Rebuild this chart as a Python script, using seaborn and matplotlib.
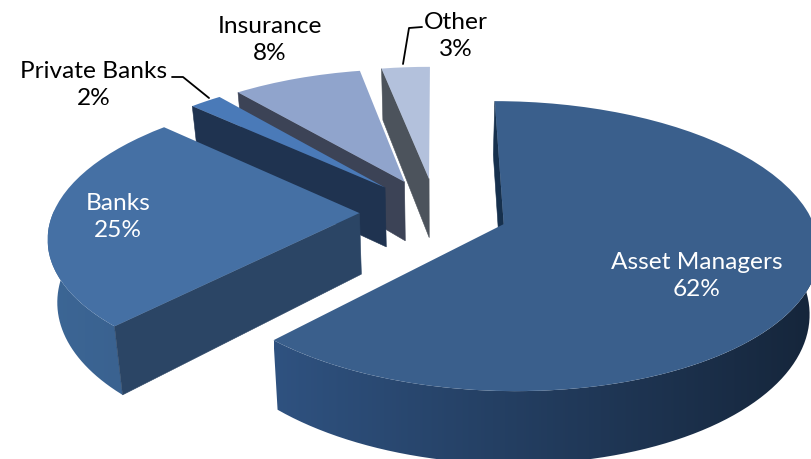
import numpy as np
import matplotlib
matplotlib.use("Agg")
import matplotlib.pyplot as plt
from matplotlib.path import Path
from matplotlib.patches import PathPatch
from matplotlib.transforms import Transform
from matplotlib.colors import to_rgb
import seaborn as sns

categories = ["Asset Managers", "Banks", "Private Banks", "Insurance", "Other"]
shares = [62, 25, 2, 8, 3]
top_colors = ["#3a5f8c", "#4570a4", "#4a7ab8", "#90a4cc", "#b3c1dc"]
cut_colors = ["#16304d", "#2b4565", "#1f3350", "#3c4356", "#4c535c"]
rim_left = ["#2f5280", "#3c6695", "#1f3350", "#3c4356", "#4c535c"]
rim_right = ["#15253a", "#3a6290", "#1f3350", "#3c4356", "#4c535c"]
explode = [0.235, 0.25, 0.25, 0.25, 0.25]

CX, CY, AX, BY, K, DEPTH, SHRINK = 436.0, 212.0, 306.0, 138.0, 0.15, 61.0, 0.975


def project(u, v, base=False):
    u, v = np.asarray(u, float), np.asarray(v, float)
    s = 1.0 / (1.0 + K * v)
    x = CX + AX * u * s
    y = CY - BY * v * s
    if base:
        x = CX + (x - CX) * SHRINK
        y = y + DEPTH * s
    return x, y


class Tilt(Transform):
    input_dims = output_dims = 2

    def transform_non_affine(self, xy):
        xy = np.asarray(xy, float)
        x, y = project(xy[:, 0], xy[:, 1])
        return np.column_stack([x, y])

    def transform_path_non_affine(self, path):
        return Path(self.transform_non_affine(path.vertices), path.codes)


sns.set_theme(style="white")
plt.rcParams["font.family"] = ["Lato", "DejaVu Sans"]

fig = plt.figure(figsize=(8.12, 4.59), dpi=100, facecolor="white")
ax = fig.add_axes([0, 0, 1, 1])
wedges, _ = ax.pie(shares, explode=explode, startangle=90, counterclock=False,
                   radius=1.0, colors=top_colors, wedgeprops={"linewidth": 0})

tilt = Tilt()
# back slices first so that the nearer ones paint over them
order = sorted(range(len(wedges)), reverse=True)
for z, i in enumerate(order):
    w = wedges[i]
    c0, c1 = w.center
    t1, t2 = np.radians(w.theta1), np.radians(w.theta2)
    base_z = 10 + z * 3

    # outer rim, only the part that faces the viewer, shaded left to right
    a = np.linspace(t1, t2, 240)
    a = a[np.sin(a) < 0.03]
    if a.size > 1:
        uu, vv = c0 + np.cos(a), c1 + np.sin(a)
        xt, yt = project(uu, vv)
        xb, yb = project(uu, vv, base=True)
        px = np.r_[xt, xb[::-1]]
        py = np.r_[yt, yb[::-1]]
        f = np.linspace(0, 1, 256)[None, :, None]
        cl, cr = np.array(to_rgb(rim_left[i])), np.array(to_rgb(rim_right[i]))
        grad = cl[None, None, :] + (cr - cl)[None, None, :] * f
        im = ax.imshow(grad, extent=(px.min(), px.max(), py.max(), py.min()),
                       aspect="auto", zorder=base_z, interpolation="bilinear")
        clip = PathPatch(Path(np.column_stack([px, py]), closed=False),
                         transform=ax.transData, fc="none", ec="none")
        ax.add_patch(clip)
        im.set_clip_path(clip)

    # cut face along the clockwise start edge of the slice
    uu = np.array([c0, c0 + np.cos(t2)])
    vv = np.array([c1, c1 + np.sin(t2)])
    xt, yt = project(uu, vv)
    xb, yb = project(uu, vv, base=True)
    ax.fill([xt[0], xt[1], xb[1], xb[0]], [yt[0], yt[1], yb[1], yb[0]],
            color=cut_colors[i], lw=0.4, zorder=base_z + 1, clip_on=False)

    # top face: the library's own wedge, seen through the tilt
    w.set_transform(tilt + ax.transData)
    w.set_zorder(base_z + 2)
    w.set_clip_on(False)

ax.set_aspect("auto")
ax.set_xlim(0, 812)
ax.set_ylim(459, 0)
ax.axis("off")

labels_txt = [f"{c}\n{s}%" for c, s in zip(categories, shares)]
text_pos = [(697, 276), (118, 217), (94, 85), (270, 40), (456, 36)]
text_col = ["white", "white", "black", "black", "black"]
for t, p, c in zip(labels_txt, text_pos, text_col):
    ax.text(p[0], p[1], t, color=c, fontsize=17.6, ha="center", va="center",
            linespacing=1.4, zorder=50)

ax.plot([172, 183, 209], [77, 77, 98], color="black", lw=1.3, zorder=49)
ax.plot([422, 409, 403], [27, 28, 64], color="black", lw=1.3, zorder=49)

fig.savefig("out.png", dpi=100, facecolor="white")
